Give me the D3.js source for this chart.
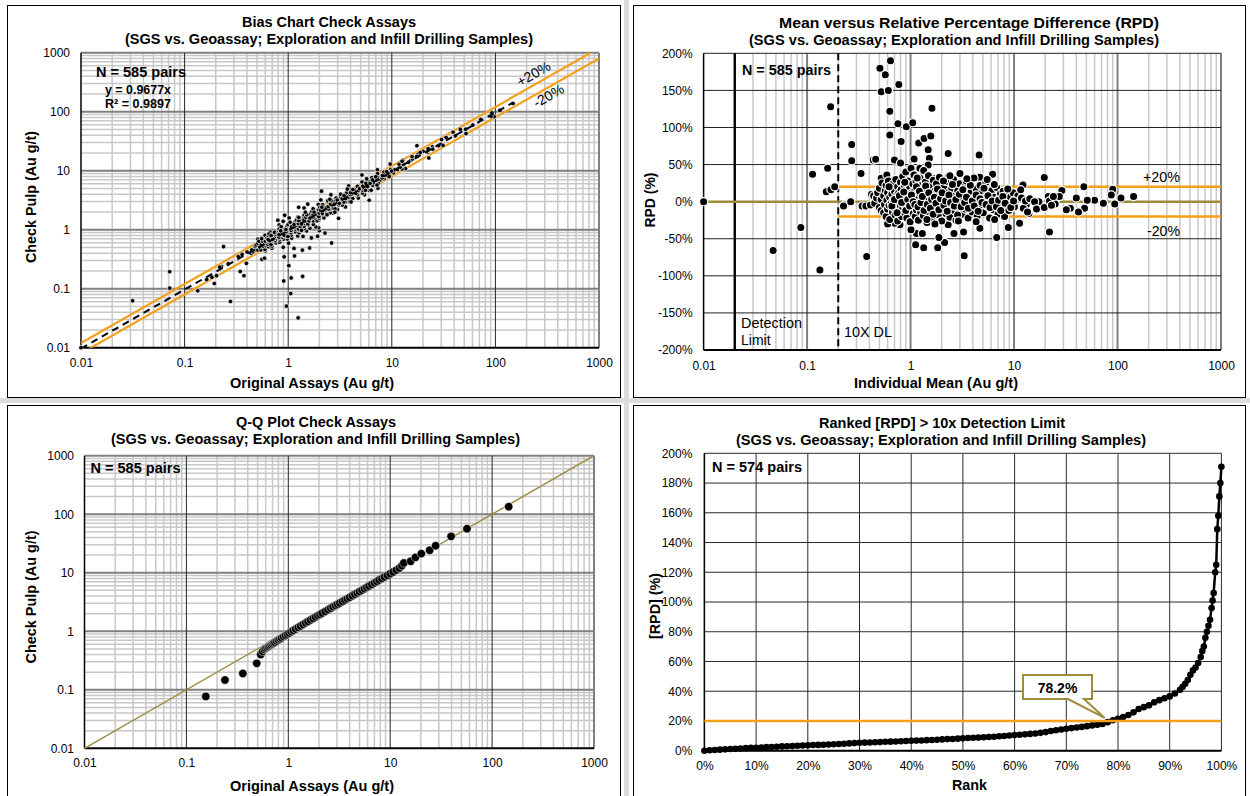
<!DOCTYPE html>
<html>
<head>
<meta charset="utf-8">
<title>Check assay charts</title>
<script src="https://cdn.jsdelivr.net/npm/d3@7"></script>
<style>
  body { margin: 0; background: #fff; }
  svg text { font-family: "Liberation Sans", Arial, sans-serif; fill: #000; }
</style>
</head>
<body>
<svg id="chart" width="1250" height="796"></svg>
<script>
// ---- values ----
var logTicks = [0.01, 0.1, 1, 10, 100, 1000];
var rpdTicks = [-200, -150, -100, -50, 0, 50, 100, 150, 200];
var rankTicks = [0, 10, 20, 30, 40, 50, 60, 70, 80, 90, 100];
var absRpdTicks = [0, 20, 40, 60, 80, 100, 120, 140, 160, 180, 200];
var detectionLimit = 0.02, tenXLimit = 0.2, rpdBand = 20;
var trendSlope = 0.9677, crossRank = 78.2;

// individual mean (Au g/t), RPD (%) = (original - check) / mean
var meanRpd = [
  [0.01, 0], [0.047, -66], [0.087, -35], [0.133, -92], [0.113, 37], [0.158, 45], [0.153, 13.5], [0.17, 16], [0.185, 20], [0.169, 128],
  [0.232, -4.5], [0.225, -6], [0.264, 0], [0.27, 77], [0.27, 55], [0.332, 38], [0.34, -6], [0.37, -6], [0.377, -74], [0.41, -4.5],
  [0.436, 56], [0.506, 180], [0.64, 190], [0.57, 171], [0.52, 148], [0.61, 150], [0.77, 158], [0.63, 122], [0.63, 90], [1.61, 126],
  [0.755, 105], [0.91, 101], [1.05, 106.5], [0.81, 81], [1.2, 79], [1.35, 85], [1.57, 88.5], [0.46, 57], [0.7, 56], [0.8, 52],
  [1.08, 57.5], [1.48, 70], [1.52, 58.5], [1.48, 49.5], [2.31, 65], [4.6, 63], [0.52, 31.5], [0.61, 27], [0.59, 36], [1.23, 45],
  [1.14, -43], [1.3, -43], [1.01, -38], [1.12, -58], [1.34, -62], [1.83, -62], [2.13, -55], [1.88, -48.5], [0.79, -31], [0.7, -29],
  [0.6, -30], [3.3, -73], [2.31, -31], [2.63, -43], [3.25, -41], [4.68, -36], [6.8, -48.5], [8.8, -35], [11.3, -29], [19.6, 32.4],
  [22, -41], [12.2, 22.5], [6.2, 37], [4.68, 33], [3.0, 38], [2.31, 34], [2.1, 27], [1.7, 31.5],
  [47.3, 20], [90, 16.7], [87, 9], [108, 5], [143, 7], [94, -3], [73, -2], [60, 2], [51, 2], [48, -9],
  [42, -14], [35, -9], [32, -11], [29, 15], [27.4, 7], [40, 5], [21.4, 7], [20.7, -6], [18.5, -6], [17.4, 0],
  [15, 2], [13.9, -16], [13.1, -4.5],
  [0.42, 10], [0.44, 8], [0.45, -2], [0.47, 5], [0.48, 12], [0.5, -8], [0.5, 18], [0.52, 3], [0.52, -12], [0.53, 25],
  [0.55, -15], [0.55, 8], [0.56, -4], [0.57, 15], [0.58, -20], [0.58, 22], [0.59, 2], [0.6, -10], [0.6, 12], [0.61, 28],
  [0.62, -5], [0.63, 6], [0.63, -24], [0.64, 18], [0.65, -2], [0.66, 10], [0.67, -14], [0.68, 24], [0.68, 2], [0.69, -8],
  [0.7, 14], [0.71, -18], [0.72, 4], [0.72, 30], [0.73, -4], [0.74, 9], [0.75, -26], [0.75, 20], [0.76, -1], [0.77, 12],
  [0.78, -12], [0.79, 6], [0.8, 26], [0.8, -6], [0.81, 16], [0.82, -20], [0.83, 2], [0.84, 34], [0.84, -9], [0.85, 11],
  [0.86, -3], [0.87, 22], [0.88, -15], [0.89, 5], [0.9, 40], [0.9, -7], [0.91, 14], [0.92, -22], [0.93, 1], [0.94, 28],
  [0.95, -11], [0.96, 8], [0.97, -4], [0.98, 18], [0.99, -27], [1.0, 3], [1.01, 45], [1.02, -9], [1.03, 12], [1.04, -2],
  [1.05, 24], [1.06, -16], [1.07, 6], [1.08, 36], [1.09, -6], [1.1, 15], [1.11, -20], [1.12, 2], [1.13, 28], [1.14, -11],
  [1.15, 9], [1.16, -3], [1.18, 19], [1.19, -25], [1.2, 4], [1.22, -8], [1.23, 32], [1.24, 11], [1.25, -14], [1.27, 1],
  [1.28, 22], [1.3, -5], [1.31, 8], [1.33, -19], [1.34, 42], [1.36, 13], [1.37, -2], [1.39, 26], [1.4, -10], [1.42, 5],
  [1.44, -28], [1.45, 17], [1.47, -6], [1.49, 35], [1.5, 2], [1.52, -15], [1.54, 10], [1.56, -3], [1.58, 21], [1.6, -22],
  [1.62, 7], [1.64, -9], [1.66, 29], [1.68, 0], [1.7, 14], [1.73, -12], [1.75, 4], [1.78, 24], [1.8, -6], [1.83, 11],
  [1.86, -18], [1.88, 1], [1.9, 33], [1.93, -4], [1.96, 16], [2.0, -26], [2.03, 6], [2.06, -10], [2.1, 20], [2.13, -1],
  [2.17, 9], [2.2, -16], [2.24, 27], [2.28, 3], [2.32, -7], [2.36, 13], [2.4, -21], [2.45, 5], [2.5, 18], [2.55, -3],
  [2.6, 30], [2.65, -12], [2.7, 8], [2.75, -25], [2.8, 2], [2.86, 15], [2.92, -8], [2.98, 24], [3.05, -2], [3.1, 11],
  [3.17, -17], [3.24, 4], [3.3, 19], [3.38, -10], [3.45, 28], [3.52, 1], [3.6, -22], [3.68, 9], [3.76, -5], [3.85, 14],
  [3.94, -14], [4.02, 3], [4.1, 32], [4.2, -3], [4.3, 17], [4.4, -20], [4.5, 7], [4.6, -9], [4.7, 22], [4.82, 0],
  [4.95, 12], [5.05, -15], [5.2, 5], [5.35, 26], [5.5, -6], [5.65, 10], [5.8, -22], [5.95, 2], [6.1, 15], [6.3, -11],
  [6.45, 6], [6.6, -3], [6.8, 19], [7.0, -17], [7.2, 4], [7.4, 11], [7.6, -8], [7.85, 14], [8.1, -20], [8.35, 2],
  [8.6, 9], [8.9, -12], [9.2, 6], [9.5, -4], [9.8, 12], [10.1, -7], [10.5, 3], [10.9, 8], [11.6, 16], [11.8, 5],
  [12.3, -9], [12.9, 1], [13.5, -14], [14.2, 4], [15.8, 0], [16.5, -10], [19.6, -8], [22, 1], [25, -3], [24, 7], [23, -5],
  [0.66, -6], [0.7, 3], [0.74, -15], [0.78, 8], [0.82, -1], [0.86, 13], [0.9, -12], [0.94, 3], [0.98, -6], [1.02, 9],
  [1.06, 0], [1.1, -4], [1.14, 20], [1.18, -7], [1.22, 14], [1.26, -1], [1.3, 7], [1.35, -12], [1.4, 21], [1.45, -4],
  [1.5, 12], [1.55, -9], [1.6, 3], [1.65, -17], [1.7, 6], [1.76, -2], [1.82, 17], [1.88, -11], [1.95, 4], [2.02, 12],
  [2.1, -5], [2.18, 1], [2.26, -13], [2.35, 9], [2.44, -1], [2.54, 23], [2.64, -6], [2.74, 3], [2.85, -18], [2.96, 10],
  [3.08, -7], [3.2, 16], [3.33, -1], [3.47, 6], [3.62, -9], [3.78, 22], [3.95, 1], [4.12, -6], [4.3, 9], [4.5, -13],
  [4.7, 4], [4.9, -1], [5.12, 18], [5.36, -4], [5.6, 8], [5.86, -8], [6.15, 1], [6.45, 23], [6.75, -7], [7.1, 2],
  [7.45, -12], [7.8, 7], [8.2, -2], [8.7, 17], [9.3, -8], [9.9, 1], [0.62, 20], [0.88, 26], [1.16, 32], [1.44, -24],
  [1.72, -30], [2.08, 28], [2.4, 35], [2.9, -26], [3.5, 31], [4.3, -27], [5.5, 30], [6.5, -24]
];

// Q-Q quantile pairs: original, check (Au g/t)
var qqPairs = [
  [0.155, 0.077], [0.239, 0.147], [0.358, 0.19], [0.49, 0.283], [0.536, 0.40], [0.56, 0.45], [0.58, 0.49], [0.6, 0.51],
  [0.62, 0.53], [0.64, 0.55], [0.66, 0.57], [0.68, 0.59], [0.7, 0.61], [0.72, 0.63], [0.74, 0.65], [0.77, 0.68],
  [0.8, 0.71], [0.83, 0.74], [0.86, 0.77], [0.9, 0.81], [0.94, 0.85], [0.98, 0.89], [1.02, 0.93], [1.07, 0.98],
  [1.12, 1.03], [1.18, 1.09], [1.25, 1.16], [1.32, 1.23], [1.4, 1.31], [1.48, 1.39], [1.56, 1.47], [1.65, 1.56],
  [1.75, 1.65], [1.85, 1.75], [1.95, 1.85], [2.05, 1.94], [2.15, 2.04], [2.3, 2.18], [2.45, 2.32], [2.6, 2.47],
  [2.75, 2.62], [2.9, 2.76], [3.05, 2.9], [3.2, 3.04], [3.4, 3.23], [3.6, 3.42], [3.8, 3.61], [4.0, 3.8],
  [4.25, 4.04], [4.5, 4.28], [4.75, 4.52], [5.0, 4.76], [5.3, 5.05], [5.6, 5.34], [5.9, 5.63], [6.2, 5.92],
  [6.6, 6.3], [7.0, 6.7], [7.4, 7.1], [7.8, 7.5], [8.3, 7.95], [8.8, 8.45], [9.4, 9.0], [10.0, 9.6],
  [10.7, 10.3], [11.5, 11.1], [12.3, 12.0], [13.0, 13.2], [13.6, 14.7], [15.9, 15.7], [17.7, 18.3], [20.2, 21.2],
  [24.4, 24.2], [27.9, 29], [39.6, 41.9], [56.7, 56.6], [145.5, 134.6]
];

// ranked |RPD| above 10x detection limit: rank (%), |RPD| (%)
var rankedRpd = [
  [0, 0], [1, 0.3], [2, 0.5], [3, 0.7], [4, 0.9], [5, 1.1], [6, 1.3], [7, 1.5], [8, 1.7], [9, 1.9],
  [10, 2.0], [11, 2.2], [12, 2.4], [13, 2.5], [14, 2.7], [15, 2.9], [16, 3.0], [17, 3.1], [18, 3.3], [19, 3.5],
  [20, 3.6], [21, 3.8], [22, 3.9], [23, 4.0], [24, 4.2], [25, 4.3], [26, 4.5], [27, 4.7], [28, 4.9], [29, 5.1],
  [30, 5.3], [31, 5.4], [32, 5.5], [33, 5.7], [34, 5.8], [35, 6.0], [36, 6.1], [37, 6.2], [38, 6.4], [39, 6.5],
  [40, 6.7], [41, 6.8], [42, 6.9], [43, 7.1], [44, 7.2], [45, 7.4], [46, 7.6], [47, 7.8], [48, 7.9], [49, 8.1],
  [50, 8.3], [51, 8.5], [52, 8.7], [53, 8.8], [54, 9.0], [55, 9.2], [56, 9.4], [57, 9.7], [58, 9.9], [59, 10.2],
  [60, 10.5], [61, 10.7], [62, 11.0], [63, 11.3], [64, 11.6], [65, 12.0], [66, 12.5], [67, 13.2], [68, 13.8], [69, 14.3],
  [70, 14.8], [71, 15.2], [72, 15.6], [73, 16.0], [74, 16.5], [75, 17.0], [76, 17.5], [77, 18.0], [78, 19.2], [79, 20.5],
  [80, 21.5], [81, 22.6], [82, 24.0], [83, 25.8], [84, 28.0], [85, 29.3], [86, 30.5], [87, 32.5], [88, 34.0], [89, 35.3],
  [90, 36.5], [91, 38.5], [92, 41], [92.5, 43], [93, 45], [93.5, 47.5], [94, 51], [94.5, 54], [95, 56], [95.5, 59],
  [96, 63], [96.3, 67], [96.6, 70], [96.9, 76], [97.2, 80], [97.5, 84], [97.8, 88], [98.1, 96], [98.3, 101], [98.5, 106],
  [98.8, 120], [99.0, 125], [99.2, 149], [99.4, 158], [99.6, 171], [99.8, 180], [100, 191]
];

var svg = d3.select("#chart");
var orange = "#f5a01a", olive = "#9e8b3e", lightGrid = "#c8c8c8";

function isDecade(d) { var l = Math.log10(d); return Math.abs(l - Math.round(l)) < 1e-6; }

function addText(g, str, x, y, o) {
  o = o || {};
  var t = g.append("text").attr("x", x).attr("y", y).text(str)
    .attr("font-size", o.size || 14)
    .attr("font-weight", o.bold ? "bold" : "normal")
    .attr("text-anchor", o.anchor || "start");
  if (o.len) t.attr("textLength", o.len).attr("lengthAdjust", "spacingAndGlyphs");
  if (o.rotate) t.attr("transform", "rotate(" + o.rotate + "," + x + "," + y + ")");
  return t;
}

function vLines(g, vals, x, p, color, w) {
  g.selectAll(null).data(vals).enter().append("line")
    .attr("x1", function (d) { return x(d); }).attr("x2", function (d) { return x(d); })
    .attr("y1", p.t).attr("y2", p.b)
    .attr("stroke", color).attr("stroke-width", w);
}

function hLines(g, vals, y, p, color, w) {
  g.selectAll(null).data(vals).enter().append("line")
    .attr("y1", function (d) { return y(d); }).attr("y2", function (d) { return y(d); })
    .attr("x1", p.l).attr("x2", p.r)
    .attr("stroke", color).attr("stroke-width", w);
}

function axes(g, x, y, p, xv, yv, xf, yf, pad) {
  var ax = g.append("g").attr("transform", "translate(0," + p.b + ")")
    .call(d3.axisBottom(x).tickValues(xv).tickSize(0).tickPadding(pad.x).tickFormat(xf));
  var ay = g.append("g").attr("transform", "translate(" + p.l + ",0)")
    .call(d3.axisLeft(y).tickValues(yv).tickSize(0).tickPadding(pad.y).tickFormat(yf));
  [ax, ay].forEach(function (a) {
    a.select(".domain").remove();
    a.selectAll("text").attr("font-size", 12).attr("fill", "#000");
  });
  // axis lines
  g.append("line").attr("x1", p.l).attr("x2", p.l).attr("y1", p.t).attr("y2", p.b)
    .attr("stroke", "#000").attr("stroke-width", 1.5);
  g.append("line").attr("x1", p.l).attr("x2", p.r).attr("y1", p.b).attr("y2", p.b)
    .attr("stroke", "#000").attr("stroke-width", 2);
}

function clipFor(id, p) {
  svg.append("clipPath").attr("id", id).append("rect")
    .attr("x", p.l).attr("y", p.t).attr("width", p.r - p.l).attr("height", p.b - p.t);
  return "url(#" + id + ")";
}

// panel separators and frames
svg.append("rect").attr("x", 0).attr("y", 398).attr("width", 1250).attr("height", 5).attr("fill", "#dcdcdc");
svg.append("rect").attr("x", 624).attr("y", 0).attr("width", 5).attr("height", 796).attr("fill", "#dcdcdc");
[[7.5, 5.5, 620.5, 397.5], [633.5, 5.5, 1245.5, 397.5], [7.5, 405.5, 620.5, 800], [633.5, 405.5, 1245.5, 800]]
  .forEach(function (b) {
    svg.append("rect").attr("x", b[0]).attr("y", b[1]).attr("width", b[2] - b[0]).attr("height", b[3] - b[1])
      .attr("fill", "#fff").attr("stroke", "#000").attr("stroke-width", 1);
  });

// ---------- Panel 1: bias chart ----------
(function () {
  var p = {l: 81, r: 599, t: 52.7, b: 347.7};
  var x = d3.scaleLog().domain([0.01, 1000]).range([p.l, p.r]);
  var y = d3.scaleLog().domain([0.01, 1000]).range([p.b, p.t]);
  var g = svg.append("g");
  var minor = x.ticks().filter(function (d) { return !isDecade(d); });
  vLines(g, minor, x, p, lightGrid, 1.5);
  hLines(g, minor, y, p, lightGrid, 1.5);
  hLines(g, [0.1, 1, 10, 100, 1000], y, p, "#7f7f7f", 2);
  vLines(g, [0.1, 1, 10, 100], x, p, "#262626", 1);
  vLines(g, [1000], x, p, "#7f7f7f", 2);
  axes(g, x, y, p, logTicks, logTicks, String, String, {x: 11, y: 11});

  var clip = clipFor("clip1", p);
  var lines = g.append("g").attr("clip-path", clip);
  [1 + rpdBand / 100, 1 - rpdBand / 100].forEach(function (f) {
    lines.append("line").attr("x1", x(0.01)).attr("y1", y(0.01 * f))
      .attr("x2", x(1000)).attr("y2", y(1000 * f))
      .attr("stroke", orange).attr("stroke-width", 2.2);
  });

  var pts = meanRpd.map(function (d) {
    return [d[0] * (1 + d[1] / 200), d[0] * (1 - d[1] / 200)];
  });
  g.append("g").selectAll("circle").data(pts).enter().append("circle")
    .attr("cx", function (d) { return x(d[0]); })
    .attr("cy", function (d) { return y(d[1]); })
    .attr("r", 2.3).attr("fill", "#000").attr("stroke", "#fff").attr("stroke-width", 0.7);

  var xMax = d3.max(pts, function (d) { return d[0]; });
  g.append("line").attr("clip-path", clip)
    .attr("x1", x(0.01)).attr("y1", y(0.01 * trendSlope))
    .attr("x2", x(xMax)).attr("y2", y(xMax * trendSlope))
    .attr("stroke", "#000").attr("stroke-width", 2).attr("stroke-dasharray", "7,5");

  var ang = -Math.atan2(y(1) - y(10), x(10) - x(1)) * 180 / Math.PI;
  addText(g, "+20%", 536, 78, {size: 14, anchor: "middle", rotate: ang});
  addText(g, "-20%", 551, 100, {size: 14, anchor: "middle", rotate: ang});
  addText(g, "N = 585 pairs", 96, 77, {size: 14, bold: true, len: 90});
  addText(g, "y = 0.9677x", 105, 94, {size: 12, bold: true, len: 66});
  addText(g, "R\u00b2 = 0.9897", 105, 108, {size: 12, bold: true, len: 66});

  addText(svg, "Bias Chart Check Assays", 242, 27, {size: 14.5, bold: true, len: 174});
  addText(svg, "(SGS vs. Geoassay; Exploration and Infill Drilling Samples)", 125, 44, {size: 14.5, bold: true, len: 408});
  addText(svg, "Original Assays (Au g/t)", 230, 388, {size: 15, bold: true, len: 164});
  addText(svg, "Check Pulp (Au g/t)", 36, 197, {size: 15, bold: true, anchor: "middle", len: 132, rotate: -90});
})();

// ---------- Panel 2: mean vs RPD ----------
(function () {
  var p = {l: 703.6, r: 1221, t: 53.3, b: 350};
  var x = d3.scaleLog().domain([0.01, 1000]).range([p.l, p.r]);
  var y = d3.scaleLinear().domain([-200, 200]).range([p.b, p.t]);
  var g = svg.append("g");
  var minor = x.ticks().filter(function (d) { return !isDecade(d); });
  vLines(g, minor, x, p, lightGrid, 1.5);
  vLines(g, [0.1, 1, 10, 100], x, p, "#808080", 2);
  vLines(g, [1000], x, p, "#000", 1);
  hLines(g, rpdTicks.filter(function (d) { return d > -200; }), y, p, "#1f1f1f", 1);
  axes(g, x, y, p, logTicks, rpdTicks, String, function (d) { return d + "%"; }, {x: 11, y: 11});

  g.append("line").attr("x1", x(detectionLimit)).attr("x2", x(detectionLimit)).attr("y1", p.t).attr("y2", p.b)
    .attr("stroke", "#000").attr("stroke-width", 2.4);
  g.append("line").attr("x1", x(tenXLimit)).attr("x2", x(tenXLimit)).attr("y1", p.t).attr("y2", p.b)
    .attr("stroke", "#000").attr("stroke-width", 2).attr("stroke-dasharray", "7,4");
  g.append("line").attr("x1", x(0.01)).attr("x2", x(1000)).attr("y1", y(0)).attr("y2", y(0))
    .attr("stroke", olive).attr("stroke-width", 2.5);
  [rpdBand, -rpdBand].forEach(function (v) {
    g.append("line").attr("x1", x(tenXLimit)).attr("x2", x(1000)).attr("y1", y(v)).attr("y2", y(v))
      .attr("stroke", orange).attr("stroke-width", 2.5);
  });

  g.append("g").selectAll("circle").data(meanRpd).enter().append("circle")
    .attr("cx", function (d) { return x(d[0]); })
    .attr("cy", function (d) { return y(d[1]); })
    .attr("r", 4.1).attr("fill", "#000").attr("stroke", "#fff").attr("stroke-width", 1.2);

  addText(g, "N = 585 pairs", 742, 75, {size: 14, bold: true, len: 89});
  addText(g, "+20%", 1143, 182, {size: 14, len: 37});
  addText(g, "-20%", 1147, 236, {size: 14, len: 33});
  addText(g, "Detection", 741, 328, {size: 14, len: 61});
  addText(g, "Limit", 741, 345, {size: 14});
  addText(g, "10X DL", 844, 337, {size: 14, len: 48});

  addText(svg, "Mean versus Relative Percentage Difference (RPD)", 779, 28, {size: 14.5, bold: true, len: 380});
  addText(svg, "(SGS vs. Geoassay; Exploration and Infill Drilling Samples)", 749, 45, {size: 14.5, bold: true, len: 410});
  addText(svg, "Individual Mean (Au g/t)", 854, 388, {size: 15, bold: true, len: 164});
  addText(svg, "RPD (%)", 655, 200, {size: 15, bold: true, anchor: "middle", len: 55, rotate: -90});
})();

// ---------- Panel 3: Q-Q plot ----------
(function () {
  var p = {l: 84.5, r: 594, t: 455.7, b: 748.3};
  var x = d3.scaleLog().domain([0.01, 1000]).range([p.l, p.r]);
  var y = d3.scaleLog().domain([0.01, 1000]).range([p.b, p.t]);
  var g = svg.append("g");
  var minor = x.ticks().filter(function (d) { return !isDecade(d); });
  vLines(g, minor, x, p, lightGrid, 1.5);
  hLines(g, minor, y, p, lightGrid, 1.5);
  hLines(g, [0.1, 1, 10, 100, 1000], y, p, "#7f7f7f", 2);
  vLines(g, [0.1, 1, 10, 100], x, p, "#262626", 1);
  vLines(g, [1000], x, p, "#7f7f7f", 2);
  axes(g, x, y, p, logTicks, logTicks, String, String, {x: 10.5, y: 10.5});

  g.append("line").attr("x1", x(0.01)).attr("y1", y(0.01)).attr("x2", x(1000)).attr("y2", y(1000))
    .attr("stroke", olive).attr("stroke-width", 1.4);

  g.append("g").selectAll("circle").data(qqPairs).enter().append("circle")
    .attr("cx", function (d) { return x(d[0]); })
    .attr("cy", function (d) { return y(d[1]); })
    .attr("r", 4.2).attr("fill", "#000").attr("stroke", "#fff").attr("stroke-width", 0.5);

  addText(g, "N = 585 pairs", 90.5, 473, {size: 14, bold: true, len: 90});
  addText(svg, "Q-Q Plot Check Assays", 236, 427, {size: 14.5, bold: true, len: 160});
  addText(svg, "(SGS vs. Geoassay; Exploration and Infill Drilling Samples)", 111, 444, {size: 14.5, bold: true, len: 409});
  addText(svg, "Original Assays (Au g/t)", 230, 791, {size: 15, bold: true, len: 164});
  addText(svg, "Check Pulp (Au g/t)", 36, 597, {size: 15, bold: true, anchor: "middle", len: 133, rotate: -90});
})();

// ---------- Panel 4: ranked RPD ----------
(function () {
  var p = {l: 704.4, r: 1221.4, t: 453.3, b: 750.7};
  var x = d3.scaleLinear().domain([0, 100]).range([p.l, p.r]);
  var y = d3.scaleLinear().domain([0, 200]).range([p.b, p.t]);
  var g = svg.append("g");
  vLines(g, rankTicks, x, p, "#2a2a2a", 1);
  hLines(g, absRpdTicks, y, p, "#2a2a2a", 1);
  var pct = function (d) { return d + "%"; };
  axes(g, x, y, p, rankTicks, absRpdTicks, pct, pct, {x: 10.8, y: 12});

  var line = d3.line().x(function (d) { return x(d[0]); }).y(function (d) { return y(d[1]); });
  g.append("path").datum(rankedRpd).attr("d", line)
    .attr("fill", "none").attr("stroke", "#000").attr("stroke-width", 2.5);
  g.append("g").selectAll("circle").data(rankedRpd).enter().append("circle")
    .attr("cx", function (d) { return x(d[0]); })
    .attr("cy", function (d) { return y(d[1]); })
    .attr("r", 3.3).attr("fill", "#000");

  g.append("line").attr("x1", p.l).attr("x2", p.r).attr("y1", y(rpdBand)).attr("y2", y(rpdBand))
    .attr("stroke", orange).attr("stroke-width", 2.5);

  var tx = x(crossRank) - 4, ty = y(rpdBand) - 3;
  g.append("path")
    .attr("d", "M1023,675 H1092 V699 H1084 L" + tx + "," + ty + " L1068,699 H1023 Z")
    .attr("fill", "#fff").attr("stroke", olive).attr("stroke-width", 2);
  addText(g, crossRank.toFixed(1) + "%", 1057.5, 693, {size: 14, bold: true, anchor: "middle"});

  addText(g, "N = 574 pairs", 712, 472, {size: 14, bold: true, len: 90});
  addText(svg, "Ranked [RPD] > 10x Detection Limit", 819, 428, {size: 14.5, bold: true, len: 246});
  addText(svg, "(SGS vs. Geoassay; Exploration and Infill Drilling Samples)", 736, 445, {size: 14.5, bold: true, len: 410});
  addText(svg, "Rank", 952, 790, {size: 15, bold: true, len: 35});
  addText(svg, "[RPD] (%)", 660, 606, {size: 15, bold: true, anchor: "middle", len: 66, rotate: -90});
})();
</script>
</body>
</html>
